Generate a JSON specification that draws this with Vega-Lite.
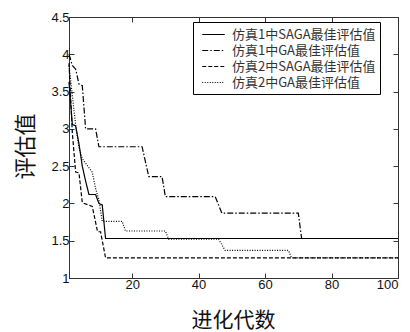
{
  "$schema": "https://vega.github.io/schema/vega-lite/v6.json",
  "width": 329,
  "height": 261,
  "autosize": {"type": "none"},
  "padding": {"left": 69, "top": 17, "right": 12, "bottom": 54},
  "background": "white",
  "config": {
    "view": {"stroke": "black", "strokeWidth": 1},
    "font": "Liberation Sans"
  },
  "data": {
    "values": [
      {"s": "仿真1中SAGA最佳评估值", "x": 1, "v": 3.63},
      {"s": "仿真1中SAGA最佳评估值", "x": 2, "v": 3.06},
      {"s": "仿真1中SAGA最佳评估值", "x": 3, "v": 3.04},
      {"s": "仿真1中SAGA最佳评估值", "x": 4, "v": 2.8},
      {"s": "仿真1中SAGA最佳评估值", "x": 5, "v": 2.5},
      {"s": "仿真1中SAGA最佳评估值", "x": 6, "v": 2.3},
      {"s": "仿真1中SAGA最佳评估值", "x": 7, "v": 2.12},
      {"s": "仿真1中SAGA最佳评估值", "x": 9, "v": 2.12},
      {"s": "仿真1中SAGA最佳评估值", "x": 10, "v": 2.0},
      {"s": "仿真1中SAGA最佳评估值", "x": 11, "v": 1.98},
      {"s": "仿真1中SAGA最佳评估值", "x": 12, "v": 1.53},
      {"s": "仿真1中SAGA最佳评估值", "x": 100, "v": 1.53},
      {"s": "仿真1中GA最佳评估值", "x": 1, "v": 4.0},
      {"s": "仿真1中GA最佳评估值", "x": 2, "v": 3.85},
      {"s": "仿真1中GA最佳评估值", "x": 3, "v": 3.8},
      {"s": "仿真1中GA最佳评估值", "x": 4, "v": 3.6},
      {"s": "仿真1中GA最佳评估值", "x": 5, "v": 3.58},
      {"s": "仿真1中GA最佳评估值", "x": 6, "v": 3.0},
      {"s": "仿真1中GA最佳评估值", "x": 9, "v": 3.0},
      {"s": "仿真1中GA最佳评估值", "x": 10, "v": 2.76},
      {"s": "仿真1中GA最佳评估值", "x": 23, "v": 2.76},
      {"s": "仿真1中GA最佳评估值", "x": 25, "v": 2.36},
      {"s": "仿真1中GA最佳评估值", "x": 29, "v": 2.36},
      {"s": "仿真1中GA最佳评估值", "x": 30, "v": 2.09},
      {"s": "仿真1中GA最佳评估值", "x": 45, "v": 2.09},
      {"s": "仿真1中GA最佳评估值", "x": 47, "v": 1.87},
      {"s": "仿真1中GA最佳评估值", "x": 70, "v": 1.87},
      {"s": "仿真1中GA最佳评估值", "x": 71, "v": 1.53},
      {"s": "仿真1中GA最佳评估值", "x": 100, "v": 1.53},
      {"s": "仿真2中SAGA最佳评估值", "x": 1, "v": 3.88},
      {"s": "仿真2中SAGA最佳评估值", "x": 2, "v": 2.95},
      {"s": "仿真2中SAGA最佳评估值", "x": 3, "v": 2.42},
      {"s": "仿真2中SAGA最佳评估值", "x": 4, "v": 2.41},
      {"s": "仿真2中SAGA最佳评估值", "x": 5, "v": 2.01},
      {"s": "仿真2中SAGA最佳评估值", "x": 8, "v": 1.96},
      {"s": "仿真2中SAGA最佳评估值", "x": 9.6, "v": 1.62},
      {"s": "仿真2中SAGA最佳评估值", "x": 10.5, "v": 1.62},
      {"s": "仿真2中SAGA最佳评估值", "x": 12, "v": 1.27},
      {"s": "仿真2中SAGA最佳评估值", "x": 100, "v": 1.27},
      {"s": "仿真2中GA最佳评估值", "x": 1, "v": 3.85},
      {"s": "仿真2中GA最佳评估值", "x": 2, "v": 3.45},
      {"s": "仿真2中GA最佳评估值", "x": 3, "v": 3.05},
      {"s": "仿真2中GA最佳评估值", "x": 4, "v": 2.75},
      {"s": "仿真2中GA最佳评估值", "x": 5, "v": 2.6},
      {"s": "仿真2中GA最佳评估值", "x": 8, "v": 2.42},
      {"s": "仿真2中GA最佳评估值", "x": 9, "v": 2.2},
      {"s": "仿真2中GA最佳评估值", "x": 10, "v": 2.05},
      {"s": "仿真2中GA最佳评估值", "x": 11, "v": 1.76},
      {"s": "仿真2中GA最佳评估值", "x": 17, "v": 1.76},
      {"s": "仿真2中GA最佳评估值", "x": 18, "v": 1.63},
      {"s": "仿真2中GA最佳评估值", "x": 30, "v": 1.63},
      {"s": "仿真2中GA最佳评估值", "x": 31, "v": 1.52},
      {"s": "仿真2中GA最佳评估值", "x": 46, "v": 1.52},
      {"s": "仿真2中GA最佳评估值", "x": 48, "v": 1.37},
      {"s": "仿真2中GA最佳评估值", "x": 67, "v": 1.37},
      {"s": "仿真2中GA最佳评估值", "x": 68, "v": 1.27},
      {"s": "仿真2中GA最佳评估值", "x": 100, "v": 1.27}
    ]
  },
  "layer": [
    {
      "mark": {"type": "line", "color": "black", "strokeWidth": 1.2},
      "encoding": {
        "x": {
          "field": "x", "type": "quantitative",
          "scale": {"domain": [1, 100], "nice": false, "zero": false},
          "axis": {
            "orient": "bottom", "values": [20, 40, 60, 80, 100],
            "title": "进化代数", "titleFont": "Noto Sans CJK SC", "titleFontSize": 21,
            "titleFontWeight": "normal", "titleColor": "#111", "titleY": 48, "titleBaseline": "alphabetic",
            "titleX": 164,
            "labelFont": "Liberation Sans", "labelFontSize": 13, "labelColor": "#111",
            "tickSize": -5, "tickColor": "#333", "domainColor": "#333", "labelPadding": 5,
            "grid": false
          }
        },
        "y": {
          "field": "v", "type": "quantitative",
          "scale": {"domain": [1, 4.5], "nice": false, "zero": false},
          "axis": {
            "orient": "left", "values": [1, 1.5, 2, 2.5, 3, 3.5, 4, 4.5], "format": ".1~f",
            "title": "评估值", "titleFont": "Noto Sans CJK SC", "titleFontSize": 22,
            "titleFontWeight": "normal", "titleColor": "#111", "titleX": -32, "titleY": 129,
            "labelFont": "Liberation Sans", "labelFontSize": 13, "labelColor": "#111",
            "tickSize": -5, "tickColor": "#333", "domainColor": "#333", "labelPadding": 5,
            "grid": false
          }
        },
        "strokeDash": {
          "field": "s", "type": "nominal",
          "scale": {
            "domain": ["仿真1中SAGA最佳评估值", "仿真1中GA最佳评估值", "仿真2中SAGA最佳评估值", "仿真2中GA最佳评估值"],
            "range": [[1, 0], [6, 2, 1.5, 2], [4, 2], [1, 1.5]]
          },
          "legend": {
            "title": null, "orient": "none", "legendX": 124, "legendY": 5,
            "symbolType": "M-1.5,0H1.5", "symbolSize": 225, "symbolStrokeColor": "black",
            "symbolFillColor": "transparent",
            "symbolStrokeWidth": 1.2, "labelFont": "Noto Sans CJK SC", "labelFontSize": 13,
            "labelColor": "#333", "labelOffset": 10, "rowPadding": 0, "symbolOffset": 8,
            "strokeColor": "black", "fillColor": "white", "padding": 4, "labelLimit": 300
          }
        },
        "detail": {"field": "s"}
      }
    },
    {
      "mark": {"type": "line", "opacity": 0},
      "encoding": {
        "x": {
          "field": "x", "type": "quantitative",
          "axis": {"orient": "top", "values": [20, 40, 60, 80, 100], "labels": false, "title": null,
                   "tickSize": -5, "tickColor": "#333", "domainColor": "#333", "grid": false}
        },
        "y": {
          "field": "v", "type": "quantitative",
          "axis": {"orient": "right", "values": [1, 1.5, 2, 2.5, 3, 3.5, 4, 4.5], "labels": false, "title": null,
                   "tickSize": -5, "tickColor": "#333", "domainColor": "#333", "grid": false}
        },
        "detail": {"field": "s"}
      }
    }
  ],
  "resolve": {"axis": {"x": "independent", "y": "independent"}}
}
